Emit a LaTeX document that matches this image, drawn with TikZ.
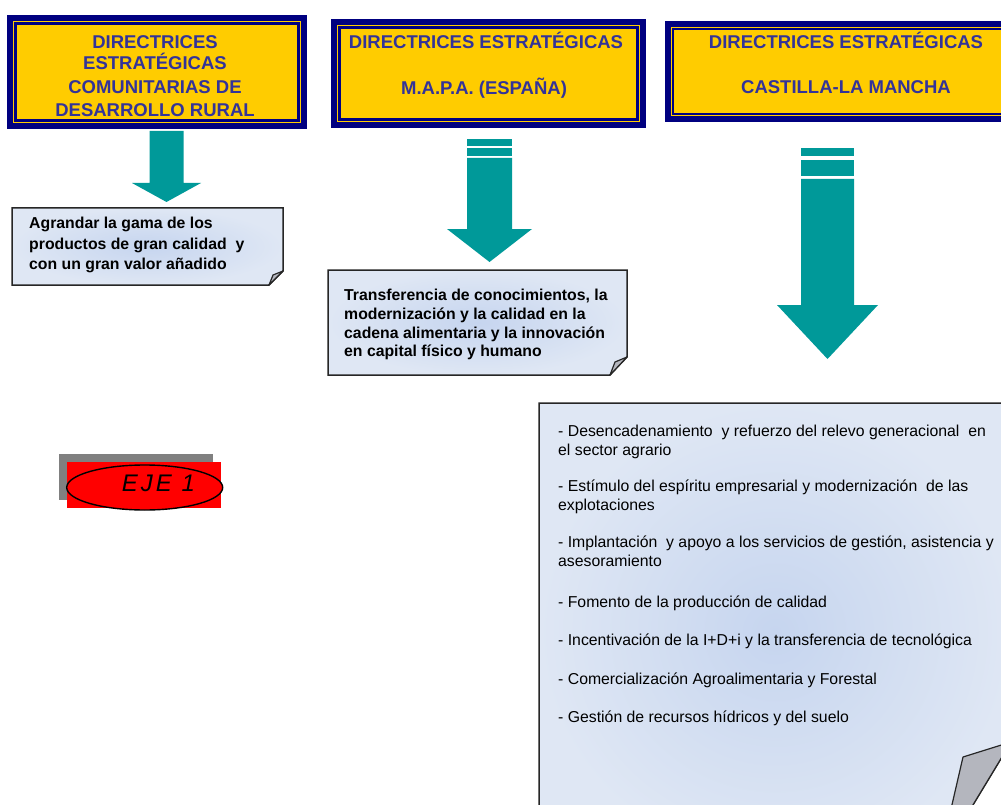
\documentclass[tikz,border=0pt]{standalone}
\usepackage{fontspec}
\setmainfont{Liberation Sans}
\usetikzlibrary{shapes.geometric,backgrounds}
\definecolor{hdryel}{HTML}{FFCC00}
\definecolor{hdrnavy}{HTML}{000080}
\definecolor{hdrtxt}{HTML}{333399}
\definecolor{tealc}{HTML}{009999}
\definecolor{notein}{HTML}{C6D5EF}
\definecolor{noteout}{HTML}{DFE7F4}
\definecolor{foldgray}{HTML}{B4B6BE}
\newcommand\blockarr[6]{%
  \fill[tealc] (#1-#5,#2) -- (#1+#5,#2) -- (#1+#5,#3) -- (#1+#6,#3) -- (#1,#4) -- (#1-#6,#3) -- (#1-#5,#3) -- cycle;}
\begin{document}
\begin{tikzpicture}[x=1pt,y=-1pt,
  hdr/.style={fill=hdryel, draw=hdrnavy, line width=1.5pt, inner sep=0pt},
  hdrtext/.style={text=hdrtxt, font=\fontsize{18.5}{22}\selectfont\bfseries, anchor=base, inner sep=0pt},
  notetext/.style={font=\fontsize{15.8}{20}\selectfont\bfseries, anchor=base west, inner sep=0pt},
  listtext/.style={font=\fontsize{15.8}{19}\selectfont, anchor=base west, inner sep=0pt},
  noteline/.style={draw=black!85, line width=1.5pt, inner color=notein, outer color=noteout},
  fold/.style={fill=foldgray, draw=black!85, line width=1.2pt, line join=round},
  frame/.style={fill=hdrnavy},
  thinline/.style={draw=hdryel, line width=0.7pt}]
\useasboundingbox (0,0) rectangle (1001,805);
\clip (0,0) rectangle (1001,805);
\fill[white] (0,0) rectangle (1001,805);

% ---- header 1
\fill[frame] (7,15) rectangle (307,129);
\draw[thinline] (13.5,21.5) rectangle (300.5,122.5);
\node[hdr, minimum width=282pt, minimum height=96pt] (h1) at (157,72) {};
\node[hdrtext] (t1a) at (155,48.5) {DIRECTRICES};
\node[hdrtext] (t1b) at (155,69.5) {ESTRATÉGICAS};
\node[hdrtext] (t1c) at (155,93.5) {COMUNITARIAS DE};
\node[hdrtext] (t1d) at (155,116.5) {DESARROLLO RURAL};

% ---- header 2
\fill[frame] (331,19) rectangle (646,128);
\draw[thinline] (337.5,25.5) rectangle (639.5,121.5);
\node[hdr, minimum width=297pt, minimum height=91pt] (h2) at (488.5,73.5) {};
\node[hdrtext] (t2a) at (486,48.5) {DIRECTRICES ESTRATÉGICAS};
\node[hdrtext] (t2b) at (484,94.5) {M.A.P.A. (ESPAÑA)};

% ---- header 3
\fill[frame] (665,21) rectangle (1027,122);
\draw[thinline] (671.5,27.5) rectangle (1020.5,115.5);
\node[hdr, minimum width=346pt, minimum height=85pt] (h3) at (846,71.5) {};
\node[hdrtext] (t3a) at (846,48.5) {DIRECTRICES ESTRATÉGICAS};
\node[hdrtext] (t3b) at (846,93.5) {CASTILLA-LA MANCHA};

% ---- arrows
\blockarr{166.5}{131}{183}{202}{17}{34.5}
\fill[tealc] (467,139) rectangle (512,146);
\fill[tealc] (467,148) rectangle (512,156);
\blockarr{489.5}{158}{229}{262}{22.5}{42.5}
\fill[tealc] (801,148) rectangle (854,156);
\fill[tealc] (801,160) rectangle (854,176);
\blockarr{827.5}{179}{305}{359}{26.5}{50.5}

% ---- note 1
\node[inner sep=0pt, minimum width=271pt, minimum height=77pt] (n1) at (147.5,246.5) {};
\shade[noteline] (12,208) -- (283,208) -- (283,271) -- (269,285) -- (12,285) -- cycle;
\draw[fold] (283,271) -- (273,275) -- (269,285) -- cycle;
\node[notetext] (n1a) at (29,228.5) {Agrandar la gama de los};
\node[notetext] (n1b) at (29,249) {productos de gran calidad\ \ y};
\node[notetext] (n1c) at (29,269.5) {con un gran valor\ añadido};

% ---- note 2
\node[inner sep=0pt, minimum width=298pt, minimum height=105pt] (n2) at (477,322.5) {};
\shade[noteline] (328,270) -- (627,270) -- (627,357) -- (610,375) -- (328,375) -- cycle;
\draw[fold] (627,357) -- (615,362) -- (610,375) -- cycle;
\node[notetext] (n2a) at (344,300.7) {Transferencia de conocimientos, la};
\node[notetext] (n2b) at (344,319.3) {modernización y la calidad\ en la};
\node[notetext] (n2c) at (344,338) {cadena alimentaria y la innovación};
\node[notetext] (n2d) at (344,356.7) {en capital físico y humano};

% ---- big note
\node[inner sep=0pt, minimum width=472pt, minimum height=458pt] (n3) at (775,632) {};
\shade[noteline] (539,403) -- (1011,403) -- (1011,742) -- (939,861) -- (539,861) -- cycle;
\draw[fold] (1011,742) -- (963,757) -- (939,861) -- cycle;
\node[listtext] (l1a) at (558,436) {- Desencadenamiento\ \ y refuerzo del relevo generacional\ \ en};
\node[listtext] (l1b) at (558,455) {el sector agrario};
\node[listtext] (l2a) at (558,491) {- Estímulo del espíritu empresarial y modernización\ \ de las};
\node[listtext] (l2b) at (558,510) {explotaciones};
\node[listtext] (l3a) at (558,547) {- Implantación\ \ y apoyo\ a los servicios de gestión, asistencia y};
\node[listtext] (l3b) at (558,566) {asesoramiento};
\node[listtext] (l4) at (558,607) {- Fomento de la producción\ de calidad};
\node[listtext] (l5) at (558,645) {- Incentivación\ de la I+D+i y la transferencia\ de tecnológica};
\node[listtext] (l6) at (558,684) {- Comercialización Agroalimentaria y Forestal};
\node[listtext] (l7) at (558,722) {- Gestión de recursos hídricos y del suelo};

% ---- EJE 1
\fill[gray] (59,454) rectangle (213,500);
\fill[red] (67,462) rectangle (221,508);
\node[ellipse, draw=black, line width=1.4pt, fill=red, minimum width=156pt, minimum height=45pt, inner sep=0pt] (eje) at (144.7,487.5) {};
\node[font=\fontsize{24}{27}\selectfont\itshape, anchor=base, inner sep=0pt] (ejet) at (158.5,491.8) {E\kern3pt J\kern3pt E\kern3pt\ 1};
\end{tikzpicture}
\end{document}
